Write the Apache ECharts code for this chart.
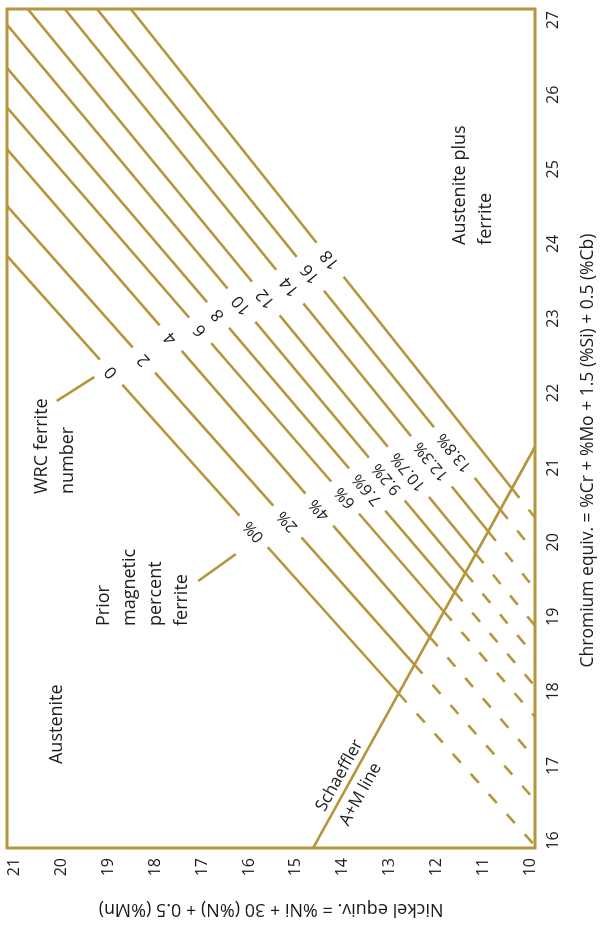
<!DOCTYPE html>
<html>
<head>
<meta charset="utf-8">
<script src="https://cdn.jsdelivr.net/npm/echarts@6/dist/echarts.min.js"></script>
<style>
  html, body { margin: 0; padding: 0; background: #fff; overflow: hidden; width: 602px; height: 926px; }
  /* The diagram is laid out landscape and turned a quarter turn to stand upright */
  #chart { position: absolute; left: 0; top: 0; width: 926px; height: 602px;
           transform-origin: 0 0; transform: translate(0, 926px) rotate(-90deg); }
</style>
</head>
<body>
<div id="chart"></div>
<script>
// Axis extents and tick values
const crRange = [15.9, 27.15];
const niRange = [9.9, 21.16];
const crTicks = [16, 17, 18, 19, 20, 21, 22, 23, 24, 25, 26, 27];
const niTicks = [10, 11, 12, 13, 14, 15, 16, 17, 18, 19, 20, 21];

// Iso-ferrite lines: WRC ferrite number and prior magnetic percent ferrite
const ferriteNumbers = [0, 2, 4, 6, 8, 10, 12, 14, 16, 18];
const percentFerrite = ['0%', '2%', '4%', '6%', '7.6%', '9.2%', '10.7%', '12.3%', '13.8%', ''];
const lineStartCr = [23.84, 24.51, 25.27, 25.83, 26.36, 26.94, 27.15, 27.15, 27.15, 27.15];
const lineStartNi = [21.16, 21.16, 21.16, 21.16, 21.16, 21.16, 20.72, 19.93, 19.24, 18.52];
const lineEndCr   = [15.93, 16.54, 17.10, 17.66, 18.07, 18.47, 18.88, 19.37, 19.86, 20.33];
const lineEndNi   = [9.9, 9.9, 9.9, 9.9, 9.9, 9.9, 9.9, 9.9, 9.9, 9.9];
// Nickel equivalent at which each line carries its labels
const fnLabelNi  = [18.94, 18.24, 17.67, 17.04, 16.66, 16.16, 15.64, 15.13, 14.69, 14.27];
const pctLabelNi = [15.90, 15.18, 14.50, 13.95, 13.48, 13.06, 12.60, 12.11, 11.62, null];

// Schaeffler A+M boundary
const schaefflerCr = [15.9, 21.28];
const schaefflerNi = [14.63, 9.9];

// Leader lines from the callout texts
const wrcLeaderCr = [21.895, 22.215];
const wrcLeaderNi = [20.10, 19.30];
const priorLeaderCr = [19.48, 19.84];
const priorLeaderNi = [17.08, 16.28];

// Region captions
const notes = [
  { text: 'Austenite', cr: 17.56, ni: 20.10, anchor: 'center' },
  { text: 'Austenite plus\nferrite', cr: 23.98, ni: 11.23, anchor: 'left' },
  { text: 'WRC ferrite\nnumber', cr: 20.64, ni: 20.13, anchor: 'left' },
  { text: 'Prior\nmagnetic\npercent\nferrite', cr: 18.87, ni: 18.26, anchor: 'left' }
];
const schaefflerCaptions = [
  { text: 'Schaeffler', cr: 16.87, ni: 14.07 },
  { text: 'A+M line', cr: 16.62, ni: 13.62 }
];

const GOLD = '#b6963c';
const INK = '#1e1b1c';
const FONT = 'Open Sans';

const grid = { left: 73.5, right: 9, top: 7, bottom: 62.5 };
const W = 926, H = 602;
const pxPerCr = (W - grid.left - grid.right) / (crRange[1] - crRange[0]);
const pxPerNi = (H - grid.top - grid.bottom) / (niRange[1] - niRange[0]);

function screenAngle(dCr, dNi) {
  return Math.atan2(dNi * pxPerNi, dCr * pxPerCr) * 180 / Math.PI;
}

function intersect(p1, p2, q1, q2) {
  const d = (p2[0] - p1[0]) * (q2[1] - q1[1]) - (p2[1] - p1[1]) * (q2[0] - q1[0]);
  const t = ((q1[0] - p1[0]) * (q2[1] - q1[1]) - (q1[1] - p1[1]) * (q2[0] - q1[0])) / d;
  return [p1[0] + t * (p2[0] - p1[0]), p1[1] + t * (p2[1] - p1[1])];
}

const sA = [schaefflerCr[0], schaefflerNi[0]];
const sB = [schaefflerCr[1], schaefflerNi[1]];

const series = [];
const fnLabelData = [];
const pctLabelData = [];

ferriteNumbers.forEach((fn, i) => {
  const start = [lineStartCr[i], lineStartNi[i]];
  const end = [lineEndCr[i], lineEndNi[i]];
  const cross = intersect(start, end, sA, sB);
  const slopeCrPerNi = (end[0] - start[0]) / (end[1] - start[1]);
  const angle = screenAngle(start[0] - end[0], start[1] - end[1]);

  series.push({
    type: 'line', name: 'FN ' + fn, data: [start, cross],
    showSymbol: false, silent: true, z: 2,
    lineStyle: { color: GOLD, width: 2.6 }
  });
  series.push({
    type: 'line', name: 'FN ' + fn + ' (beyond A+M line)', data: [cross, end],
    showSymbol: false, silent: true, z: 2,
    lineStyle: { color: GOLD, width: 2.6, type: [12, 15] }
  });

  const fnNi = fnLabelNi[i];
  fnLabelData.push({
    name: String(fn),
    value: [start[0] + (fnNi - start[1]) * slopeCrPerNi, fnNi],
    label: { rotate: angle }
  });
  if (percentFerrite[i]) {
    const pNi = pctLabelNi[i];
    pctLabelData.push({
      name: percentFerrite[i],
      value: [start[0] + (pNi - start[1]) * slopeCrPerNi, pNi],
      label: { rotate: angle }
    });
  }
});

series.push({
  type: 'line', name: 'Schaeffler A+M line', data: [sA, sB],
  showSymbol: false, silent: true, z: 3,
  lineStyle: { color: GOLD, width: 2.6 }
});
series.push({
  type: 'line', name: 'WRC leader',
  data: wrcLeaderCr.map((c, i) => [c, wrcLeaderNi[i]]),
  showSymbol: false, silent: true, z: 3,
  lineStyle: { color: GOLD, width: 2.6 }
});
series.push({
  type: 'line', name: 'Prior leader',
  data: priorLeaderCr.map((c, i) => [c, priorLeaderNi[i]]),
  showSymbol: false, silent: true, z: 3,
  lineStyle: { color: GOLD, width: 2.6 }
});

// Text-only scatter layers: invisible point, fully opaque label
const textPoint = { symbolSize: 1, itemStyle: { color: '#fff', opacity: 1 }, silent: true, z: 6 };

const lineLabelStyle = {
  show: true, position: 'inside', formatter: p => p.name, opacity: 1,
  color: INK, fontFamily: FONT, fontWeight: 500, backgroundColor: '#fff',
  padding: [2, 12], textBorderWidth: 0
};
series.push(Object.assign({
  type: 'scatter', name: 'Ferrite number labels', data: fnLabelData,
  label: Object.assign({}, lineLabelStyle, { fontSize: 17 })
}, textPoint));
series.push(Object.assign({
  type: 'scatter', name: 'Percent ferrite labels', data: pctLabelData,
  label: Object.assign({}, lineLabelStyle, { fontSize: 16, padding: [2, 10] })
}, textPoint));

const schaefflerAngle = screenAngle(sB[0] - sA[0], sB[1] - sA[1]);
series.push(Object.assign({
  type: 'scatter', name: 'Schaeffler captions',
  data: schaefflerCaptions.map(c => ({ name: c.text, value: [c.cr, c.ni] })),
  label: { show: true, position: 'inside', formatter: p => p.name, rotate: schaefflerAngle,
           opacity: 1, color: INK, fontFamily: FONT, fontSize: 17, textBorderWidth: 0 }
}, textPoint));
series.push(Object.assign({
  type: 'scatter', name: 'Region captions',
  data: notes.map(n => ({
    name: n.text, value: [n.cr, n.ni],
    label: n.anchor === 'left'
      ? { position: 'right', distance: 0, align: 'left' }
      : { position: 'inside' }
  })),
  label: { show: true, formatter: p => p.name, opacity: 1, color: INK, fontFamily: FONT,
           fontSize: 18, lineHeight: 26, textBorderWidth: 0 }
}, textPoint));

const chart = echarts.init(document.getElementById('chart'), null, { renderer: 'canvas' });
chart.setOption({
  animation: false,
  backgroundColor: '#fff',
  grid: Object.assign({ show: true, borderColor: GOLD, borderWidth: 3, containLabel: false }, grid),
  xAxis: {
    type: 'value', min: crRange[0], max: crRange[1],
    name: 'Chromium equiv. = %Cr + %Mo + 1.5 (%Si) + 0.5 (%Cb)',
    nameLocation: 'middle', nameGap: 44,
    nameTextStyle: { color: INK, fontFamily: FONT, fontSize: 17.5, padding: [0, 44, 0, 0] },
    axisLine: { show: false }, axisTick: { show: false }, splitLine: { show: false },
    axisLabel: { customValues: crTicks, color: INK, fontFamily: FONT, fontSize: 16, margin: 10 }
  },
  yAxis: {
    type: 'value', min: niRange[0], max: niRange[1],
    name: 'Nickel equiv. = %Ni + 30 (%N) + 0.5 (%Mn)',
    nameLocation: 'middle', nameGap: 52,
    nameTextStyle: { color: INK, fontFamily: FONT, fontSize: 18 },
    axisLine: { show: false }, axisTick: { show: false }, splitLine: { show: false },
    axisLabel: { customValues: niTicks, color: INK, fontFamily: FONT, fontSize: 16, margin: 10 }
  },
  series: series
});
</script>
</body>
</html>
